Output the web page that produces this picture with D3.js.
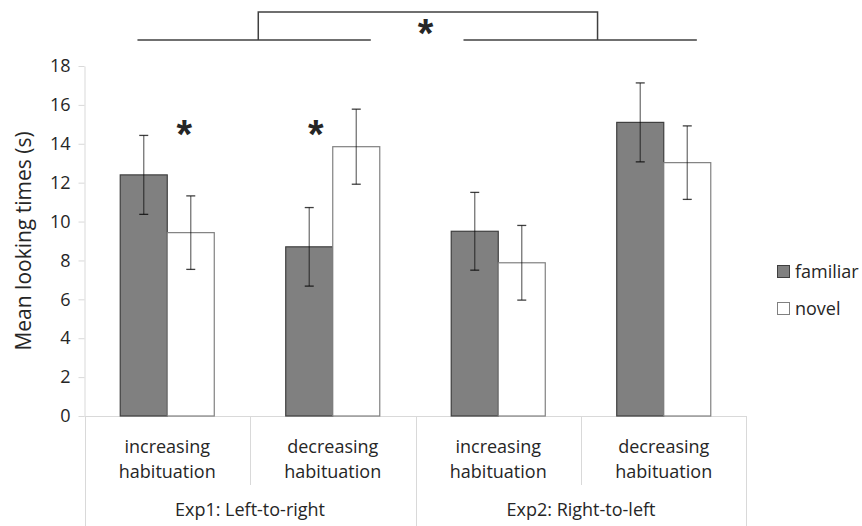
<!DOCTYPE html>
<html>
<head>
<meta charset="utf-8">
<script src="https://cdn.jsdelivr.net/npm/d3@7"></script>
<style>
  body { margin: 0; background: #fff; }
  text { font-family: "Open Sans", sans-serif; fill: #262626; }
</style>
</head>
<body>
<div class="chart"></div>
<script>
var svgWidth = 862;
var svgHeight = 526;

// Data
var categories = ["c1", "c2", "c3", "c4"];
var categoryLines = [["increasing", "habituation"], ["decreasing", "habituation"],
                     ["increasing", "habituation"], ["decreasing", "habituation"]];
var experiments = ["Exp1: Left-to-right", "Exp2: Right-to-left"];
var seriesNames = ["familiar", "novel"];
var familiar = [12.4, 8.7, 9.5, 15.1];
var novel = [9.43, 13.85, 7.88, 13.03];
var familiarErr = [2.03, 2.02, 2.0, 2.03];
var novelErr = [1.89, 1.93, 1.92, 1.89];
var yTicks = [0, 2, 4, 6, 8, 10, 12, 14, 16, 18];
// categories that got a significance star
var starred = [0, 1];

var plotLeft = 84.5, plotRight = 746.5, plotTop = 66, plotBottom = 416;

var svg = d3.select(".chart")
  .append("svg")
  .attr("width", svgWidth)
  .attr("height", svgHeight);

var x = d3.scaleBand().domain(categories).range([plotLeft, plotRight]);
var xSub = d3.scaleBand().domain(seriesNames).range([0, x.bandwidth()]).paddingOuter(0.76);
var y = d3.scaleLinear().domain([0, 18]).range([plotBottom, plotTop]);

// Y axis
var yAxis = svg.append("g")
  .attr("transform", `translate(${plotLeft}, 0)`)
  .call(d3.axisLeft(y).tickValues(yTicks).tickSize(6).tickSizeOuter(0).tickPadding(8));
yAxis.select(".domain").attr("stroke", "#d9d9d9");
yAxis.selectAll(".tick line").attr("stroke", "#d9d9d9");
yAxis.selectAll(".tick text")
  .style("font-family", "'Open Sans', sans-serif")
  .style("font-size", "18px")
  .attr("fill", "#262626");

svg.append("text")
  .attr("transform", `translate(31, ${(plotTop + plotBottom) / 2}) rotate(-90)`)
  .attr("text-anchor", "middle")
  .style("font-size", "21px")
  .text("Mean looking times (s)");

// X axis frame
var grid = svg.append("g").attr("stroke", "#d9d9d9").attr("stroke-width", 1);
grid.append("line").attr("x1", plotLeft).attr("x2", plotRight).attr("y1", plotBottom + 0.5).attr("y2", plotBottom + 0.5);
categories.forEach(function(c, i) {
  var x0 = x(c);
  var full = (i % 2 === 0);
  grid.append("line")
    .attr("x1", Math.round(x0) + 0.5).attr("x2", Math.round(x0) + 0.5)
    .attr("y1", plotBottom).attr("y2", full ? svgHeight : 485);
});
grid.append("line")
  .attr("x1", plotRight).attr("x2", plotRight).attr("y1", plotBottom).attr("y2", svgHeight);

// category labels
categories.forEach(function(c, i) {
  var cx = x(c) + x.bandwidth() / 2;
  categoryLines[i].forEach(function(line, j) {
    svg.append("text")
      .attr("x", cx).attr("y", 453 + j * 25)
      .attr("text-anchor", "middle")
      .style("font-size", "18px")
      .text(line);
  });
});
experiments.forEach(function(e, i) {
  var cx = x(categories[i * 2 + 1]);
  svg.append("text")
    .attr("x", cx).attr("y", 516)
    .attr("text-anchor", "middle")
    .style("font-size", "18px")
    .text(e);
});

// Bars
var rows = categories.map(function(c, i) {
  return [
    { cat: c, s: "familiar", v: familiar[i], e: familiarErr[i] },
    { cat: c, s: "novel", v: novel[i], e: novelErr[i] }
  ];
}).flat();

svg.selectAll("rect.bar")
  .data(rows)
  .enter()
  .append("rect")
  .attr("class", "bar")
  .attr("x", d => x(d.cat) + xSub(d.s))
  .attr("width", xSub.bandwidth())
  .attr("y", d => y(d.v))
  .attr("height", d => y(0) - y(d.v))
  .attr("fill", d => d.s === "familiar" ? "#808080" : "#ffffff")
  .attr("stroke", d => d.s === "familiar" ? "#3f3f3f" : "#808080")
  .attr("stroke-width", 1.2);

// Error bars
var err = svg.append("g").attr("stroke", "#000").attr("stroke-opacity", 0.55).attr("stroke-width", 1.3);
rows.forEach(function(d) {
  var cx = x(d.cat) + xSub(d.s) + xSub.bandwidth() / 2;
  err.append("line").attr("x1", cx).attr("x2", cx).attr("y1", y(d.v + d.e)).attr("y2", y(d.v - d.e));
  [d.v + d.e, d.v - d.e].forEach(function(v) {
    err.append("line").attr("x1", cx - 4.5).attr("x2", cx + 4.5).attr("y1", y(v)).attr("y2", y(v))
      .attr("stroke-opacity", 0.75);
  });
});

// Stars above categories (first sits right of centre, second left of centre)
starred.forEach(function(i, k) {
  var c = categories[i];
  svg.append("text")
    .attr("x", x(c) + x.bandwidth() / 2 + (k === 0 ? 17 : -17))
    .attr("y", 148)
    .attr("text-anchor", "middle")
    .style("font-family", "'Liberation Sans', sans-serif")
    .style("font-size", "40px")
    .style("font-weight", "bold")
    .attr("fill", "#111")
    .text("*");
});

// Experiment comparison bracket
var bw = x.step();
var e1 = x(categories[1]), e2 = x(categories[3]);
var br = svg.append("g").attr("fill", "none").attr("stroke", "#404040").attr("stroke-width", 1.5);
br.append("line").attr("x1", e1 - 0.68 * bw).attr("x2", e1 + 0.73 * bw).attr("y1", 40).attr("y2", 40);
br.append("line").attr("x1", e2 - 0.71 * bw).attr("x2", e2 + 0.70 * bw).attr("y1", 40).attr("y2", 40);
br.append("path")
  .attr("d", `M${e1 + 0.05 * bw},40 V12 H${e2 + 0.1 * bw} V40`);
svg.append("text")
  .attr("x", (e1 + e2) / 2 + 10)
  .attr("y", 47)
  .attr("text-anchor", "middle")
  .style("font-family", "'Liberation Sans', sans-serif")
  .style("font-size", "40px")
  .style("font-weight", "bold")
  .attr("fill", "#111")
  .text("*");

// Legend
var legend = svg.append("g");
seriesNames.forEach(function(s, i) {
  var ly = 265 + i * 37;
  legend.append("rect")
    .attr("x", 777.5).attr("y", ly + 0.5).attr("width", 12).attr("height", 12)
    .attr("fill", s === "familiar" ? "#808080" : "#fff")
    .attr("stroke", s === "familiar" ? "#3f3f3f" : "#808080");
  legend.append("text")
    .attr("x", 795).attr("y", ly + 13)
    .style("font-size", "18px")
    .text(s);
});
</script>
</body>
</html>
